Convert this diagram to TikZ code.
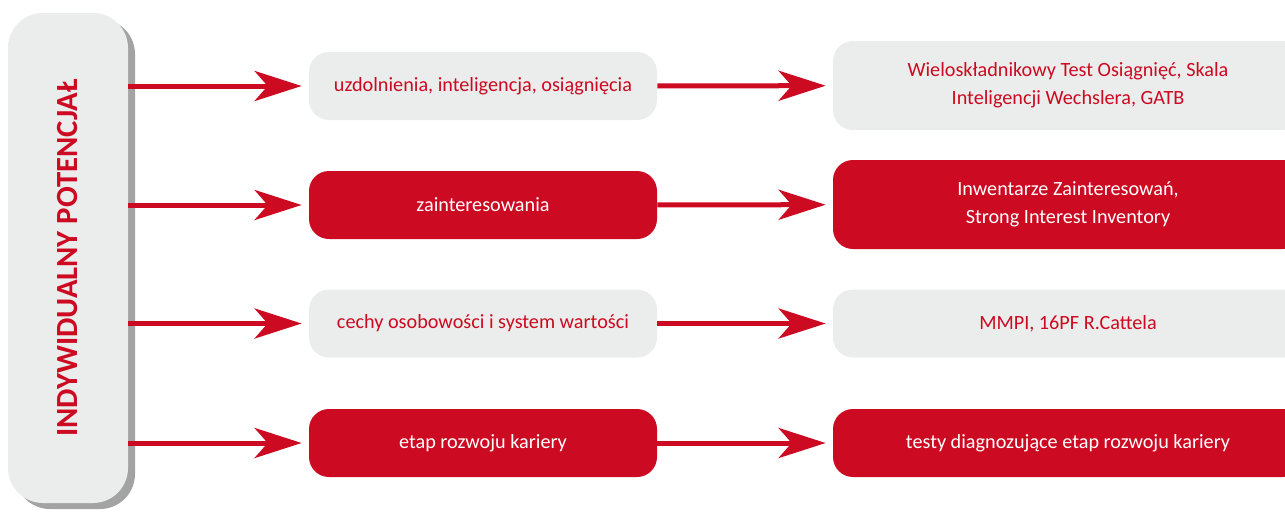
\documentclass[tikz,border=0pt]{standalone}
\usepackage{fontspec}
\setmainfont{Carlito}
\usetikzlibrary{arrows.meta,shadows}
\definecolor{kred}{HTML}{CC0A21}
\definecolor{kgray}{HTML}{EBECEC}
\tikzset{
  box/.style={rounded corners=0.4cm, align=center, minimum height=1.36cm, font=\fontsize{11.5}{15.8}\selectfont},
  kmid/.style={box, minimum width=6.96cm},
  kright/.style={box, minimum width=9.4cm},
  klight/.style={fill=kgray, text=kred},
  kdark/.style={fill=kred, text=white},
  flow/.style={-{Stealth[length=0.94cm, width=0.6cm, inset=0.26cm]}, line width=0.1cm, draw=kred, shorten >=0.14cm},
}
\begin{document}
\begin{tikzpicture}
    \useasboundingbox (0,0) rectangle (25.7,-10.24);
    \node[klight, rounded corners=0.7cm, minimum width=2.4cm, minimum height=9.8cm,
      drop shadow={shadow xshift=0.14cm, shadow yshift=-0.12cm, fill=black!60, opacity=0.6}]
      (potencjal) at (1.36,-5.16) {};
    \node[rotate=90, text=kred, font=\fontsize{17.5}{19}\selectfont\bfseries] (tytul) at (potencjal.center) {INDYWIDUALNY POTENCJAŁ};
    \node[kmid, klight] (zdol) at (9.66,-1.72) {uzdolnienia, inteligencja, osiągnięcia};
    \node[kmid, kdark] (zaint) at (9.66,-4.10) {zainteresowania};
    \node[kmid, klight] (cechy) at (9.66,-6.47) {cechy osobowości i system wartości};
    \node[kmid, kdark] (etap) at (9.66,-8.86) {etap rozwoju kariery};
    \node[kright, klight, minimum height=1.78cm] (testy) at (21.36,-1.71) {Wieloskładnikowy Test Osiągnięć, Skala\\Inteligencji Wechslera, GATB};
    \node[kright, kdark, minimum height=1.78cm] (inwent) at (21.36,-4.09) {Inwentarze Zainteresowań,\\Strong Interest Inventory};
    \node[kright, klight] (mmpi) at (21.36,-6.47) {MMPI, 16PF R.Cattela};
    \node[kright, kdark] (diagn) at (21.36,-8.86) {testy diagnozujące etap rozwoju kariery};
    \draw[flow] (potencjal.east |- zdol) -- (zdol);
    \draw[flow] (potencjal.east |- zaint) -- (zaint);
    \draw[flow] (potencjal.east |- cechy) -- (cechy);
    \draw[flow] (potencjal.east |- etap) -- (etap);
    \draw[flow] (zdol) -- (testy);
    \draw[flow] (zaint) -- (inwent);
    \draw[flow] (cechy) -- (mmpi);
    \draw[flow] (etap) -- (diagn);
  \end{tikzpicture}
\end{document}
